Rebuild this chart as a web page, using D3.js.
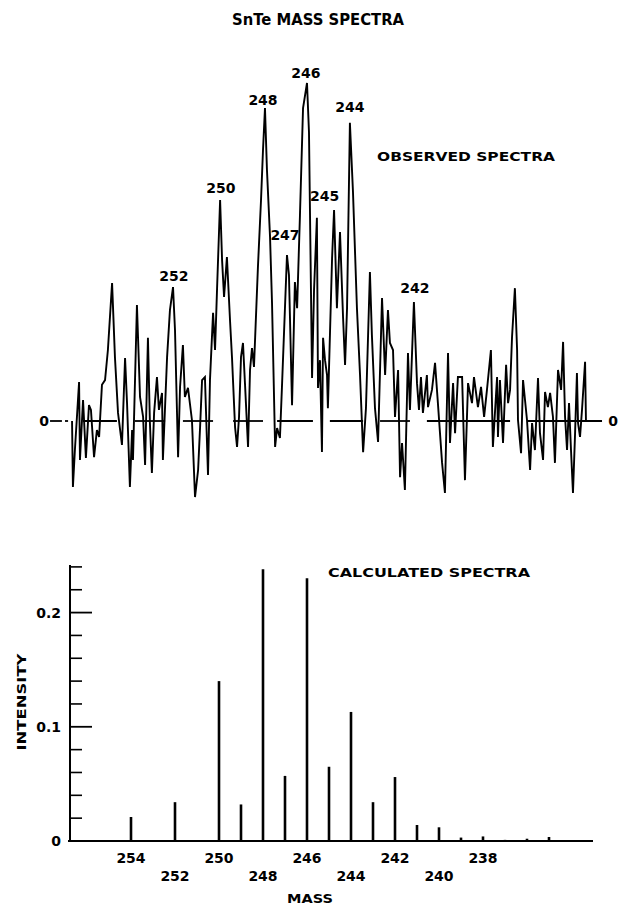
<!DOCTYPE html>
<html>
<head>
<meta charset="utf-8">
<script src="https://cdn.jsdelivr.net/npm/d3@7"></script>
<style>
  html, body { margin: 0; padding: 0; background: #fff; }
  svg { display: block; }
  text { font-family: "DejaVu Sans", sans-serif; font-weight: bold; fill: #000; }
</style>
</head>
<body>
<div id="chart"></div>
<script>
// SnTe mass spectra - observed trace (top) and calculated lines (bottom)

// observed trace: [mass, relative signal]
const observed = [
  [256.68, 0], [256.64, -19.5], [256.55, -8.6], [256.36, 11.5], [256.32, -11.5], [256.18, 6.2],
  [256.05, -10.9], [255.91, 4.7], [255.82, 3.3], [255.68, -10.7], [255.55, -2.7], [255.45, -4.7],
  [255.32, 10.7], [255.18, 12.1], [255.05, 21.0], [254.86, 40.8], [254.73, 18.9], [254.59, 2.4],
  [254.41, -7.1], [254.27, 18.6], [254.18, 5.3], [254.05, -19.5], [253.95, -2.7], [253.91, -11.5],
  [253.73, 34.3], [253.59, 7.1], [253.45, 1.2], [253.36, -13.0], [253.23, 24.6], [253.14, -0.6],
  [253.05, -15.4], [252.95, 2.4], [252.82, 13.0], [252.73, 3.3], [252.59, 8.3], [252.55, -11.5],
  [252.36, 18.9], [252.23, 32.8], [252.09, 39.6], [252.00, 26.9], [251.86, -10.7], [251.77, 10.1],
  [251.64, 22.5], [251.55, 7.1], [251.41, 9.8], [251.23, 0.3], [251.09, -22.5], [250.95, -14.5],
  [250.86, -1.8], [250.77, 12.1], [250.64, 13.0], [250.50, -16.0], [250.41, 12.1], [250.27, 32.0],
  [250.18, 21.0], [250.09, 38.8], [249.95, 65.4], [249.86, 47.6], [249.77, 36.7], [249.64, 48.5],
  [249.50, 29.9], [249.41, 18.9], [249.27, -1.8], [249.18, -7.7], [249.09, 1.2], [249.00, 18.9],
  [248.91, 23.1], [248.82, 11.2], [248.68, -7.7], [248.59, 15.1], [248.50, 21.6], [248.41, 16.0],
  [248.32, 30.8], [248.23, 45.6], [248.09, 65.4], [248.00, 80.2], [247.91, 92.6], [247.82, 74.3],
  [247.68, 54.4], [247.59, 34.9], [247.45, -7.7], [247.36, -2.1], [247.23, -5.0], [247.14, 9.8],
  [246.91, 49.1], [246.82, 43.2], [246.68, 4.7], [246.55, 41.1], [246.45, 33.4], [246.32, 60.9],
  [246.18, 92.6], [246.00, 100], [245.91, 85.5], [245.77, 12.7], [245.68, 38.8], [245.55, 60.1],
  [245.50, 9.8], [245.41, 18.0], [245.32, -9.2], [245.27, 24.6], [245.18, 18.0], [245.09, 13.6],
  [245.05, 3.8], [244.86, 48.2], [244.77, 62.4], [244.64, 33.4], [244.50, 55.9], [244.36, 30.5],
  [244.27, 16.6], [244.18, 33.4], [244.05, 88.2], [243.91, 67.8], [243.73, 33.4], [243.59, 13.6],
  [243.45, -9.2], [243.32, 3.8], [243.14, 44.1], [243.05, 25.4], [242.91, 3.8], [242.77, -6.2],
  [242.59, 36.4], [242.45, 13.6], [242.32, 32.8], [242.23, 23.1], [242.09, 21.0], [242.00, 1.2],
  [241.86, 15.1], [241.77, -16.6], [241.68, -6.5], [241.55, -20.4], [241.41, 20.1], [241.32, 3.3],
  [241.14, 35.2], [241.00, 11.2], [240.91, 3.3], [240.82, 13.0], [240.73, 2.4], [240.55, 13.6],
  [240.50, 4.1], [240.32, 9.2], [240.18, 17.2], [240.05, 5.3], [239.86, -12.4], [239.73, -21.3],
  [239.59, 20.1], [239.50, -6.5], [239.36, 11.2], [239.27, -3.6], [239.14, 13.0], [238.95, 13.0],
  [238.82, -17.5], [238.68, 11.2], [238.50, 5.3], [238.41, 13.0], [238.23, 4.1], [238.09, 10.1],
  [237.95, 1.2], [237.82, 9.2], [237.64, 21.0], [237.55, -7.7], [237.36, 13.0], [237.32, -4.7],
  [237.23, 12.1], [237.09, -6.5], [236.95, 16.6], [236.86, 5.3], [236.77, 9.2], [236.68, 24.9],
  [236.55, 39.3], [236.45, 21.0], [236.41, 0.3], [236.27, -9.5], [236.18, 12.1], [236.00, 0.3],
  [235.86, -14.5], [235.77, -0.6], [235.64, -8.6], [235.50, 12.7], [235.41, -3.6], [235.27, -11.5],
  [235.18, 8.6], [235.05, 4.1], [234.95, 8.3], [234.82, 1.2], [234.73, -12.4], [234.59, 15.1],
  [234.45, 9.2], [234.36, 23.4], [234.27, 1.2], [234.18, -8.6], [234.09, 5.3], [234.00, -8.6],
  [233.91, -21.3], [233.82, -4.7], [233.73, 14.2], [233.68, -0.6], [233.59, -4.7], [233.50, 3.3],
  [233.36, 17.5], [233.32, 0]
];

// pieces of the drawn zero line under the trace (mass from, mass to)
const baseline = [
  [257.68, 257.14], [257.00, 256.86], [256.18, 254.64], [253.82, 252.45], [251.64, 250.27],
  [249.36, 248.00], [247.36, 245.73], [244.96, 243.45], [242.68, 241.32], [240.55, 236.77],
  [236.00, 232.59]
];

// peak labels on the observed trace: [label, mass position, relative height]
const peakLabels = [
  ["252", 252.05, 41.4], ["250", 249.91, 67.5], ["248", 248.0, 93.5], ["247", 247.0, 53.5],
  ["246", 246.05, 101.5], ["245", 245.2, 65.0], ["244", 244.05, 91.5], ["242", 241.1, 37.9]
];

// calculated spectrum
const calcMass = [254, 252, 250, 249, 248, 247, 246, 245, 244, 243, 242, 241, 240, 239, 238, 237, 236, 235];
const calcIntensity = [0.021, 0.034, 0.140, 0.032, 0.238, 0.057, 0.230, 0.065, 0.113, 0.034,
  0.056, 0.014, 0.012, 0.003, 0.004, 0.001, 0.002, 0.0035];

const yMajorTicks = [0, 0.1, 0.2];
const yMinorTicks = [0.02, 0.04, 0.06, 0.08, 0.12, 0.14, 0.16, 0.18, 0.22, 0.24];
const massRow1 = [254, 250, 246, 242, 238];
const massRow2 = [252, 248, 244, 240];

const width = 618, height = 907;

const svg = d3.select('#chart').append('svg')
  .attr('width', width)
  .attr('height', height);

// mass runs right to left, shared by both panels
const x = d3.scaleLinear().domain([257, 233]).range([65, 593]);
const yObs = d3.scaleLinear().domain([0, 100]).range([421, 83]);
const yCalc = d3.scaleLinear().domain([0, 0.24]).range([841, 566.9]);

// title
svg.append('text')
  .attr('x', 232).attr('y', 25)
  .attr('textLength', 172).attr('lengthAdjust', 'spacingAndGlyphs')
  .style('font-size', '16px')
  .text('SnTe MASS SPECTRA');

// ---- observed panel ----
const obsPanel = svg.append('g');

obsPanel.selectAll('.base')
  .data(baseline)
  .enter().append('line')
  .attr('class', 'base')
  .attr('x1', d => x(d[0])).attr('x2', d => x(d[1]))
  .attr('y1', yObs(0)).attr('y2', yObs(0))
  .attr('stroke', '#000').attr('stroke-width', 1.8);

obsPanel.append('path')
  .datum(observed)
  .attr('d', d3.line().x(d => x(d[0])).y(d => yObs(d[1])))
  .attr('fill', 'none')
  .attr('stroke', '#000')
  .attr('stroke-width', 1.9)
  .attr('stroke-linejoin', 'miter')
  .attr('stroke-miterlimit', 3);

obsPanel.selectAll('.peak')
  .data(peakLabels)
  .enter().append('text')
  .attr('class', 'peak')
  .attr('x', d => x(d[1])).attr('y', d => yObs(d[2]))
  .attr('text-anchor', 'middle')
  .style('font-size', '14px')
  .text(d => d[0]);

obsPanel.append('text')
  .attr('x', 44).attr('y', yObs(0) + 5)
  .attr('text-anchor', 'middle')
  .style('font-size', '14px')
  .text('0');
obsPanel.append('text')
  .attr('x', 613).attr('y', yObs(0) + 5)
  .attr('text-anchor', 'middle')
  .style('font-size', '14px')
  .text('0');

obsPanel.append('text')
  .attr('x', 377).attr('y', 161)
  .attr('textLength', 178).attr('lengthAdjust', 'spacingAndGlyphs')
  .style('font-size', '13px')
  .text('OBSERVED SPECTRA');

// ---- calculated panel ----
const calcPanel = svg.append('g');

calcPanel.append('line')
  .attr('x1', 70).attr('x2', 70)
  .attr('y1', yCalc(0) + 1).attr('y2', yCalc(0.24) - 2)
  .attr('stroke', '#000').attr('stroke-width', 2);

calcPanel.append('line')
  .attr('x1', 68).attr('x2', 593)
  .attr('y1', yCalc(0)).attr('y2', yCalc(0))
  .attr('stroke', '#000').attr('stroke-width', 2);

calcPanel.selectAll('.minor')
  .data(yMinorTicks)
  .enter().append('line')
  .attr('class', 'minor')
  .attr('x1', 70).attr('x2', 82)
  .attr('y1', d => yCalc(d)).attr('y2', d => yCalc(d))
  .attr('stroke', '#000').attr('stroke-width', 1.6);

calcPanel.selectAll('.major')
  .data(yMajorTicks)
  .enter().append('line')
  .attr('class', 'major')
  .attr('x1', 70).attr('x2', 92)
  .attr('y1', d => yCalc(d)).attr('y2', d => yCalc(d))
  .attr('stroke', '#000').attr('stroke-width', 1.8);

calcPanel.selectAll('.ylab')
  .data(yMajorTicks)
  .enter().append('text')
  .attr('class', 'ylab')
  .attr('x', 61).attr('y', d => yCalc(d) + 5)
  .attr('text-anchor', 'end')
  .style('font-size', '14px')
  .text(d => d === 0 ? '0' : d3.format('.1f')(d));

calcPanel.selectAll('.bar')
  .data(calcMass.map((m, i) => ({ m, v: calcIntensity[i] })))
  .enter().append('line')
  .attr('class', 'bar')
  .attr('x1', d => x(d.m)).attr('x2', d => x(d.m))
  .attr('y1', yCalc(0)).attr('y2', d => yCalc(d.v))
  .attr('stroke', '#000').attr('stroke-width', 2.6);

calcPanel.selectAll('.m1')
  .data(massRow1)
  .enter().append('text')
  .attr('class', 'm1')
  .attr('x', d => x(d)).attr('y', 863)
  .attr('text-anchor', 'middle')
  .style('font-size', '14px')
  .text(d => d);

calcPanel.selectAll('.m2')
  .data(massRow2)
  .enter().append('text')
  .attr('class', 'm2')
  .attr('x', d => x(d)).attr('y', 881)
  .attr('text-anchor', 'middle')
  .style('font-size', '14px')
  .text(d => d);

calcPanel.append('text')
  .attr('x', 287).attr('y', 903)
  .attr('textLength', 46).attr('lengthAdjust', 'spacingAndGlyphs')
  .style('font-size', '12px')
  .text('MASS');

calcPanel.append('text')
  .attr('transform', 'translate(26,702) rotate(-90)')
  .attr('text-anchor', 'middle')
  .attr('textLength', 97).attr('lengthAdjust', 'spacingAndGlyphs')
  .style('font-size', '13px')
  .text('INTENSITY');

calcPanel.append('text')
  .attr('x', 328).attr('y', 577)
  .attr('textLength', 202).attr('lengthAdjust', 'spacingAndGlyphs')
  .style('font-size', '13px')
  .text('CALCULATED SPECTRA');
</script>
</body>
</html>
